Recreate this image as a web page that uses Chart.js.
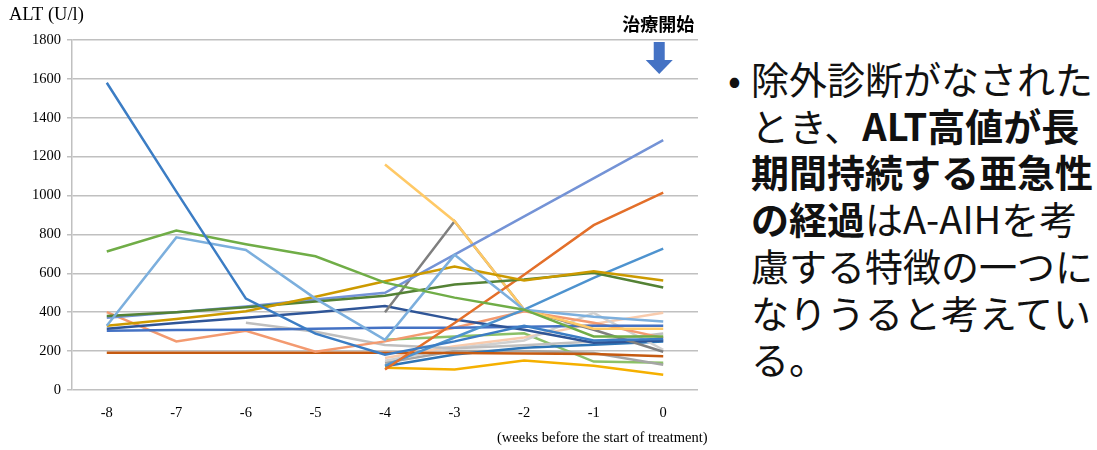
<!DOCTYPE html>
<html>
<head>
<meta charset="utf-8">
<script src="https://cdn.jsdelivr.net/npm/chart.js@4/dist/chart.umd.min.js"></script>
<style>
  html, body { margin: 0; padding: 0; background: #fff; }
  #wrap { position: relative; width: 1097px; height: 450px; overflow: hidden; }
  #chart { position: absolute; left: 0; top: 0; }
  #note {
    position: absolute; left: 751px; top: 55px;
    font-family: "Noto Sans CJK JP", sans-serif; font-size: 38px;
    line-height: 46.7px; color: #111; white-space: nowrap;
  }
  #note b { font-weight: 700; }
  #bullet {
    position: absolute; left: 728px; top: 55px;
    font-family: "Noto Sans CJK JP", sans-serif; font-size: 38px;
    line-height: 46.7px; color: #111;
  }
</style>
</head>
<body>
<div id="wrap">
  <canvas id="chart" width="720" height="450"></canvas>
  <div id="bullet">•</div>
  <div id="note">除外診断がなされた<br>とき、<b>ALT高値が長<br>期間持続する亜急性<br>の経過</b>はA-AIHを考<br>慮する特徴の一つに<br>なりうると考えてい<br>る。</div>
</div>
<script>
// Weeks before the start of treatment
const weeks = ['-8', '-7', '-6', '-5', '-4', '-3', '-2', '-1', '0'];
const yTickValues = [0, 200, 400, 600, 800, 1000, 1200, 1400, 1600, 1800];

// ALT (U/l) per patient; null = no measurement that week
const patientA = [1580, 1020, 470, 290, 182, 250, 330, 255, 262];
const patientB = [712, 820, 750, 688, 552, 475, 413, 275, 275];
const patientC = [330, 785, 720, 470, 258, 695, 413, 377, 352];
const patientD = [330, 365, 405, 480, 559, 635, 563, 611, 563];
const patientE = [380, 400, 425, 455, 485, 542, 568, 603, 527];
const patientF = [372, 400, 430, 465, 500, 696, null, null, 1285];
const patientG = [null, null, null, null, 105, 345, 593, 848, 1015];
const patientH = [null, null, null, null, 125, 270, 413, 577, 727];
const patientI = [null, null, null, null, 1160, 868, 413, 315, 315];
const patientJ = [null, null, null, null, 400, 868, 413, 310, 197];
const patientK = [315, 345, 372, 400, 432, 362, 310, 243, 255];
const patientL = [305, 308, 310, 315, 320, 320, 325, 330, 330];
const patientM = [400, 250, 305, 197, 250, 320, 405, 346, 268];
const patientN = [192, 192, 192, 192, 192, 190, 188, 185, 173];
const patientO = [null, null, 346, 300, 232, 215, 230, 250, 290];
const patientP = [null, null, null, null, 150, 215, 255, 397, 207];
const patientQ = [null, null, null, null, 165, 225, 270, 340, 397];
const patientR = [null, null, null, null, 115, 105, 152, 125, 79];
const patientS = [null, null, null, null, 122, 182, 217, 233, 250];
const patientT = [null, null, null, null, 140, 200, 200, 190, 130];
const patientU = [null, null, null, null, 258, 275, 292, 146, 140];

const lines = [
  [patientA, '#3C7DC4'], [patientB, '#70AD47'], [patientC, '#7CAFDD'],
  [patientD, '#CC9A00'], [patientE, '#548235'], [patientF, '#7493D6'],
  [patientG, '#E36F2A'], [patientH, '#4E93CF'], [patientI, '#FFC966'],
  [patientJ, '#7F7F7F'], [patientK, '#2F5597'], [patientL, '#4472C4'],
  [patientM, '#F39A70'], [patientN, '#C55A11'], [patientO, '#BFBFBF'],
  [patientP, '#D0D0D0'], [patientQ, '#F8CBAD'], [patientR, '#F5B000'],
  [patientS, '#2E75B6'], [patientT, '#A5A5A5'], [patientU, '#8CC168']
];

const serif = '"Liberation Serif", "Times New Roman", serif';
Chart.defaults.font.family = serif;

// Axis captions, the treatment-start marker and its arrow
const annotations = {
  id: 'annotations',
  afterDraw(chart) {
    const c = chart.ctx;
    const x0 = chart.scales.x.getPixelForValue(8);
    c.save();
    c.fillStyle = '#000';
    c.textBaseline = 'middle';
    c.textAlign = 'left';
    c.font = '18.5px ' + serif;
    c.fillText('ALT (U/l)', 9, 15);
    c.font = '14.5px ' + serif;
    c.fillText('(weeks before the start of treatment)', 497, 438);
    c.textAlign = 'center';
    c.font = 'bold 18px "Noto Sans CJK JP", sans-serif';
    c.fillText('治療開始', x0 - 5, 24);
    const ax = x0 - 4;
    c.fillStyle = '#4472C4';
    c.fillRect(ax - 5.5, 42, 11, 19);
    c.beginPath();
    c.moveTo(ax - 13.5, 60);
    c.lineTo(ax + 13.5, 60);
    c.lineTo(ax, 74);
    c.closePath();
    c.fill();
    c.restore();
  }
};

new Chart(document.getElementById('chart'), {
  type: 'line',
  data: {
    labels: weeks,
    datasets: lines.map(([values, color]) => ({
      data: values,
      borderColor: color,
      backgroundColor: color,
      borderWidth: 2.5,
      pointRadius: 0,
      tension: 0,
      spanGaps: true
    }))
  },
  options: {
    responsive: false,
    animation: false,
    layout: { padding: { top: 40, right: 22, bottom: 0, left: 0 } },
    plugins: { legend: { display: false }, tooltip: { enabled: false } },
    scales: {
      x: {
        offset: true,
        grid: { display: false },
        border: { display: false },
        ticks: { color: '#000', font: { family: serif, size: 14.5 }, padding: 6 },
        afterFit(s) { s.height = 60; }
      },
      y: {
        min: 0, max: 1800,
        afterBuildTicks(s) { s.ticks = yTickValues.map(v => ({ value: v })); },
        ticks: {
          color: '#000', font: { family: serif, size: 14.5 }, padding: 6,
          callback: v => String(v)
        },
        grid: { color: '#C0C0C0', lineWidth: 1.5, tickLength: 5 },
        border: { color: '#C0C0C0', width: 1.5 },
        afterFit(s) { s.width = 72; }
      }
    }
  },
  plugins: [annotations]
});
</script>
</body>
</html>
